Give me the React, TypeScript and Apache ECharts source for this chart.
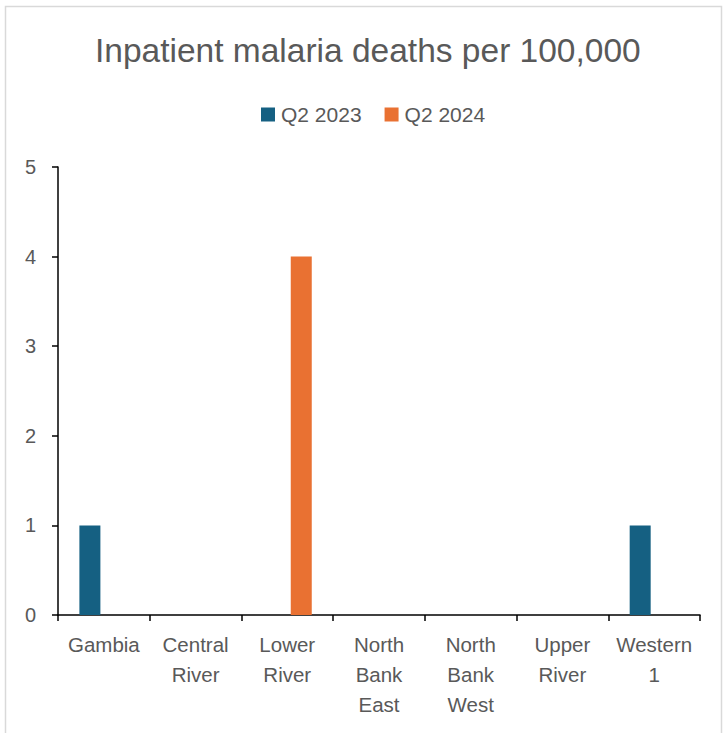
import React, { useEffect, useRef } from "react";
import * as echarts from "echarts";

const categories = ["Gambia", "Central River", "Lower River", "North Bank East", "North Bank West", "Upper River", "Western 1"];
const q2023 = [1, 0, 0, 0, 0, 0, 1];
const q2024 = [0, 0, 4, 0, 0, 0, 0];
const seriesNames = ["Q2 2023", "Q2 2024"];
const titleText = "Inpatient malaria deaths per 100,000";

const FONT = "'Liberation Sans', Arial, sans-serif";

export default function App() {
  const ref = useRef<HTMLDivElement>(null);
  useEffect(() => {
    document.body.style.margin = "0";
    const chart = echarts.init(ref.current!, null, { renderer: "svg" });
    chart.setOption({
      animation: false,
      backgroundColor: "#ffffff",
      textStyle: { fontFamily: FONT },
      title: {
        text: titleText,
        left: 90,
        top: 28,
        textStyle: { fontFamily: FONT, fontSize: 33.5, fontWeight: "normal", color: "#595959" },
      },
      legend: {
        top: 99,
        left: 256,
        itemWidth: 14,
        itemHeight: 14,
        itemGap: 23,
        icon: "rect",
        textStyle: { fontFamily: FONT, fontSize: 21, color: "#595959", padding: [0, 0, 0, 1] },
        data: seriesNames,
      },
      graphic: [
        {
          type: "rect",
          shape: { x: 5.5, y: 6.5, width: 716, height: 800 },
          style: { fill: "none", stroke: "#d9d9d9", lineWidth: 1.5 },
          silent: true,
        },
      ],
      grid: { left: 58, right: 24, top: 167, bottom: 118, containLabel: false },
      xAxis: {
        type: "category",
        data: categories,
        axisLine: { lineStyle: { color: "#000000", width: 1.5 } },
        axisTick: { show: true, length: 6, lineStyle: { color: "#000000", width: 1.5 } },
        axisLabel: {
          interval: 0,
          margin: 14,
          fontFamily: FONT,
          fontSize: 20.5,
          lineHeight: 30,
          color: "#595959",
          formatter: (v: string) => v.split(" ").join("\n"),
        },
      },
      yAxis: {
        type: "value",
        min: 0,
        max: 5,
        interval: 1,
        splitLine: { show: false },
        axisLine: { show: true, lineStyle: { color: "#000000", width: 1.5 } },
        axisTick: { show: true, length: 6, lineStyle: { color: "#000000", width: 1.5 } },
        axisLabel: { margin: 22, fontFamily: FONT, fontSize: 20, color: "#595959" },
      },
      series: [
        {
          name: seriesNames[0],
          type: "bar",
          data: q2023,
          itemStyle: { color: "#156082" },
          barWidth: 21,
          barGap: "33%",
        },
        {
          name: seriesNames[1],
          type: "bar",
          data: q2024,
          itemStyle: { color: "#E97132" },
          barWidth: 21,
          barGap: "33%",
        },
      ],
    });
    return () => chart.dispose();
  }, []);
  return <div ref={ref} style={{ width: 724, height: 733 }} />;
}
